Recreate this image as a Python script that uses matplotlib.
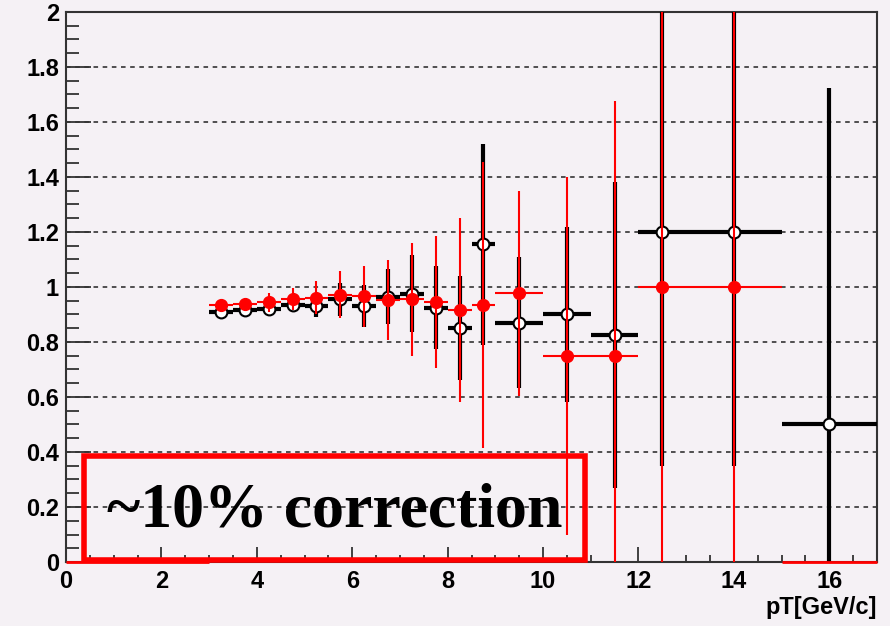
import numpy as np
import matplotlib.pyplot as plt
from matplotlib.patches import Rectangle
from matplotlib.ticker import MultipleLocator

# bin centres and half widths (GeV/c)
pt = [3.25, 3.75, 4.25, 4.75, 5.25, 5.75, 6.25, 6.75, 7.25, 7.75, 8.25, 8.75,
      9.5, 10.5, 11.5, 12.5, 14.0, 16.0]
pt_halfw = [0.25] * 12 + [0.5, 0.5, 0.5, 0.5, 1.0, 1.0]

# black: uncorrected ratio
black_val = [0.91, 0.915, 0.92, 0.935, 0.93, 0.955, 0.93, 0.965, 0.975, 0.925,
             0.85, 1.155, 0.87, 0.90, 0.825, 1.2, 1.2, 0.5]
black_err = [0.01, 0.015, 0.02, 0.025, 0.04, 0.06, 0.077, 0.10, 0.14, 0.15,
             0.19, 0.365, 0.237, 0.317, 0.555, 0.852, 0.852, 1.224]

# red: corrected ratio (no entry in the last bin)
red_val = [0.933, 0.939, 0.944, 0.957, 0.961, 0.971, 0.966, 0.952, 0.955, 0.944,
           0.917, 0.933, 0.976, 0.75, 0.75, 1.0, 1.0]
red_err = [0.015, 0.02, 0.035, 0.04, 0.06, 0.085, 0.11, 0.145, 0.205, 0.24,
           0.335, 0.52, 0.373, 0.65, 0.925, 1.2, 1.2]
red_empty = [(0.0, 3.0), (15.0, 17.0)]

bg = '#f5f1f5'
fig = plt.figure(figsize=(8.9, 6.26), dpi=100, facecolor=bg)
ax = fig.add_axes([0.0742, 0.1022, 0.9112, 0.879])
ax.set_facecolor(bg)

ax.set_xlim(0, 17)
ax.set_ylim(0, 2)

ax.yaxis.grid(True, linestyle=(0, (3, 3)), color='#222222', lw=1.1)
ax.set_axisbelow(True)

ax.errorbar(pt, black_val, yerr=black_err, xerr=pt_halfw, fmt='o', color='black',
            elinewidth=3, capsize=0, ms=8.5, mfc='white', mec='black', mew=1.5,
            zorder=3)
n = len(red_val)
ax.errorbar(pt[:n], red_val, yerr=red_err, xerr=pt_halfw[:n], fmt='o', color='red',
            elinewidth=1.5, capsize=0, ms=8.5, mfc='red', mec='red', zorder=4)
for lo, hi in red_empty:
    ax.hlines(0, lo, hi, colors='red', lw=2, zorder=5, clip_on=False)

for s in ax.spines.values():
    s.set_color('#333333')
    s.set_linewidth(1.5)

ax.xaxis.set_major_locator(MultipleLocator(2))
ax.xaxis.set_minor_locator(MultipleLocator(0.5))
ax.yaxis.set_major_locator(MultipleLocator(0.2))
ax.yaxis.set_minor_locator(MultipleLocator(0.05))
ax.yaxis.set_major_formatter(plt.FuncFormatter(lambda v, p: '%g' % round(v, 2)))
ax.tick_params(axis='both', which='both', direction='in', color='#333333', width=1.3)
ax.tick_params(axis='x', which='major', length=11, pad=6)
ax.tick_params(axis='x', which='minor', length=5)
ax.tick_params(axis='y', which='major', length=18, pad=5)
ax.tick_params(axis='y', which='minor', length=9)
for lab in ax.get_xticklabels() + ax.get_yticklabels():
    lab.set_fontfamily('Liberation Sans')
    lab.set_fontweight('bold')
    lab.set_fontsize(17)

ax.set_xlabel('pT[GeV/c]', fontfamily='Liberation Sans', fontweight='bold',
              fontsize=17, loc='right', labelpad=2)

# annotation box
fig.patches.append(Rectangle((0.094, 0.106), 0.563, 0.166, transform=fig.transFigure,
                             fill=False, edgecolor='red', lw=4, zorder=10))
fig.text(0.376, 0.183, '~10% correction', ha='center', va='center',
         fontfamily='Liberation Serif', fontweight='bold', fontsize=46, zorder=11)

fig.savefig('out.png', dpi=100, facecolor=bg)
